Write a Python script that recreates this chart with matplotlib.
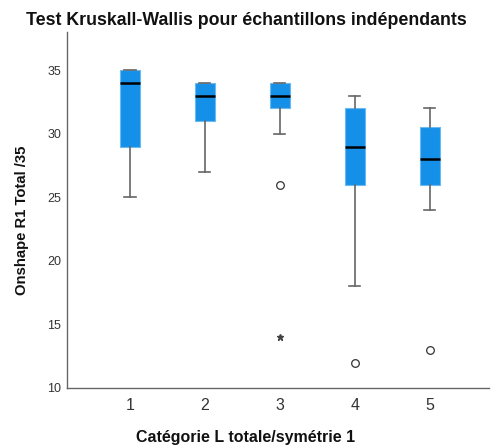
import matplotlib
matplotlib.use("Agg")
import matplotlib.pyplot as plt

plt.rcParams["font.family"] = ["Liberation Sans", "DejaVu Sans"]

categories = ["1", "2", "3", "4", "5"]
whislo = [25, 27, 30, 18, 24]
q1 = [29, 31, 32, 26, 26]
med = [34, 33, 33, 29, 28]
q3 = [35, 34, 34, 32, 30.5]
whishi = [35, 34, 34, 33, 32]
outliers = [[], [], [26], [12], [13]]
extremes = [[], [], [14], [], []]

fig = plt.figure(figsize=(4.92, 4.47), dpi=100)
ax = fig.add_axes([0.136, 0.132, 0.858, 0.796])

stats = []
for i, c in enumerate(categories):
    stats.append(dict(label=c, whislo=whislo[i], q1=q1[i], med=med[i],
                      q3=q3[i], whishi=whishi[i], fliers=outliers[i]))

pos = list(range(1, len(categories) + 1))
ax.bxp(stats, positions=pos, widths=0.27, patch_artist=True,
       boxprops=dict(facecolor="#1590e8", edgecolor="#6cb8f0", linewidth=0.8),
       medianprops=dict(color="black", linewidth=1.8),
       whiskerprops=dict(color="#666666", linewidth=1.2),
       capprops=dict(color="#666666", linewidth=1.2),
       capwidths=0.15,
       flierprops=dict(marker="o", markerfacecolor="none", markeredgecolor="#333333",
                       markersize=5.5, markeredgewidth=0.9))

for i, ex in enumerate(extremes):
    if ex:
        ax.plot([pos[i]] * len(ex), ex, linestyle="none", marker="*",
                color="#444444", markersize=5)

ax.set_xlim(0.16, 5.79)
ax.set_ylim(10, 38)
ax.set_yticks([10, 15, 20, 25, 30, 35])
ax.set_xticks(pos)
ax.set_xticklabels(categories)
ax.tick_params(axis="y", length=0, labelsize=9, colors="#333333", pad=4)
ax.tick_params(axis="x", length=0, labelsize=11.5, colors="#333333", pad=7)
for s in ["top", "right"]:
    ax.spines[s].set_visible(False)
for s in ["left", "bottom"]:
    ax.spines[s].set_color("#666666")
    ax.spines[s].set_linewidth(1.0)

fig.text(0.5, 0.955, "Test Kruskall-Wallis pour échantillons indépendants",
         ha="center", va="center", fontsize=12.8, fontweight="bold", color="#111111")
fig.text(0.5, 0.022, "Catégorie L totale/symétrie 1", ha="center", va="center",
         fontsize=11.5, fontweight="bold", color="#111111")
fig.text(22 / 492, 1 - 220 / 447, "Onshape R1 Total /35", rotation=90,
         ha="center", va="center", fontsize=10.7, fontweight="bold", color="#111111")

fig.savefig("out.png", dpi=100)
